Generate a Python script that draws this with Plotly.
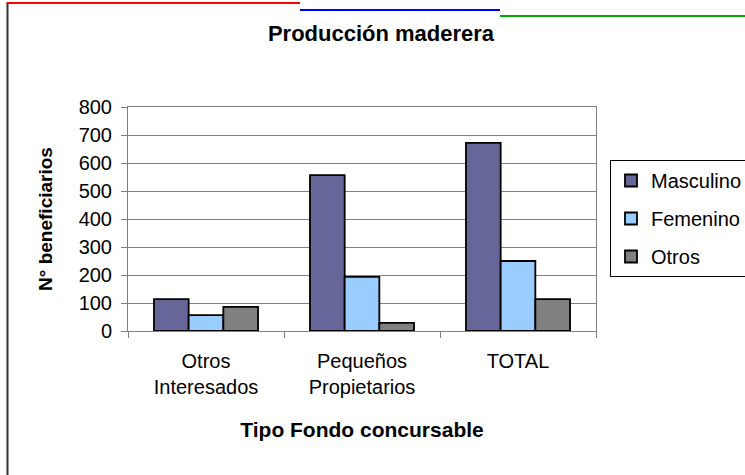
import plotly.graph_objects as go

categories = ["Otros<br>Interesados", "Pequeños<br>Propietarios", "TOTAL"]
masculino = [114, 557, 672]
femenino = [57, 193, 250]
otros = [86, 29, 114]
y_ticks = [0, 100, 200, 300, 400, 500, 600, 700, 800]

FONT = "Liberation Sans, Arial, sans-serif"
W, H = 745, 475
X0, X1, Y0, Y1 = 128, 596, 107, 331
L, R, T, B = X0, W - X1, Y0, H - Y1
pw, ph = X1 - X0, Y1 - Y0

def px_x(p):
    return (p - X0) / pw

def px_y(p):
    return (Y1 - p) / ph

fig = go.Figure()
for name, vals, col in [("Masculino", masculino, "#666699"),
                        ("Femenino", femenino, "#99CCFF"),
                        ("Otros", otros, "#808080")]:
    fig.add_trace(go.Bar(x=categories, y=vals, name=name, legendgroup=name,
                         marker=dict(color=col, line=dict(color="#000000", width=1.8))))

fig.update_layout(
    width=W, height=H,
    margin=dict(l=L, r=R, t=T, b=B, autoexpand=False),
    paper_bgcolor="white", plot_bgcolor="white",
    barmode="group", bargap=0.333, bargroupgap=0,
    font=dict(family=FONT, size=20, color="#000000"),
    title=dict(text="<b>Producción maderera</b>", x=px_x(381), xref="paper",
               xanchor="center", y=1 - 33 / H, yanchor="middle",
               font=dict(size=22)),
    legend=dict(x=px_x(610), y=px_y(160), xanchor="left", yanchor="top",
                bordercolor="#000000", borderwidth=1, bgcolor="white",
                traceorder="grouped", tracegroupgap=9, itemwidth=30,
                font=dict(size=20)),
    showlegend=True,
)
fig.update_xaxes(
    ticks="outside", tickson="boundaries", ticklen=6, tickcolor="#808080",
    showline=True, linecolor="#808080", linewidth=1, mirror=True,
    tickfont=dict(size=20), ticklabelstandoff=12,
    title=dict(text="<b>Tipo Fondo concursable</b>", font=dict(size=21), standoff=25),
)
fig.update_yaxes(
    range=[0, 800], tickvals=y_ticks, ticks="outside", ticklen=6, tickcolor="#808080",
    showline=True, linecolor="#808080", linewidth=1, mirror=True,
    showgrid=True, gridcolor="#808080", gridwidth=1, zeroline=False,
    tickfont=dict(size=20), ticklabelstandoff=5,
    title=dict(text="<b>N° beneficiarios</b>", font=dict(size=19), standoff=20),
)
# outer chart border (left and top edges visible, others run off the image)
fig.add_shape(type="line", xref="paper", yref="paper",
              x0=px_x(7.5), x1=px_x(7.5), y0=px_y(480), y1=px_y(3),
              line=dict(color="#333333", width=2))
fig.add_shape(type="line", xref="paper", yref="paper",
              x0=px_x(6.5), x1=px_x(300), y0=px_y(3), y1=px_y(3),
              line=dict(color="#ff0000", width=2))
fig.add_shape(type="line", xref="paper", yref="paper",
              x0=px_x(300), x1=px_x(500), y0=px_y(10), y1=px_y(10),
              line=dict(color="#0000ff", width=2))
fig.add_shape(type="line", xref="paper", yref="paper",
              x0=px_x(500), x1=px_x(750), y0=px_y(16), y1=px_y(16),
              line=dict(color="#00aa00", width=2))

fig.write_html("out.html", config={"displayModeBar": False},
               post_script="document.body.style.margin='0px';")
